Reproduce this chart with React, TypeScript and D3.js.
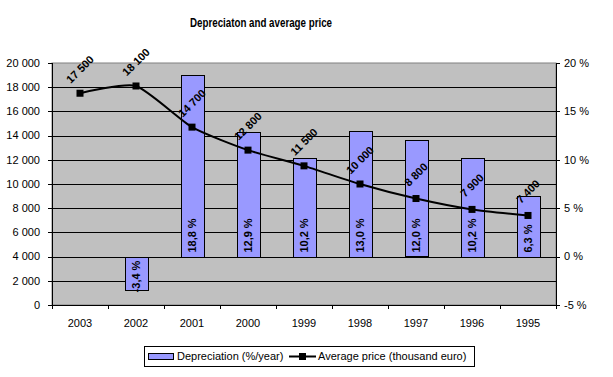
import React from "react";
import * as d3 from "d3";

const categories = ["2003", "2002", "2001", "2000", "1999", "1998", "1997", "1996", "1995"];
const depreciation: (number | null)[] = [null, -3.4, 18.8, 12.9, 10.2, 13.0, 12.0, 10.2, 6.3];
const avgPrice = [17500, 18100, 14700, 12800, 11500, 10000, 8800, 7900, 7400];
const leftTicks = [0, 2000, 4000, 6000, 8000, 10000, 12000, 14000, 16000, 18000, 20000];
const rightTicks = [-5, 0, 5, 10, 15, 20];

const W = 613, H = 377;
const plot = { left: 52, right: 556, top: 63, bottom: 305 };
const font = "'Liberation Sans', Arial, sans-serif";

const fmtThousands = (v: number) => {
  const s = Math.round(v).toString();
  return s.replace(/\B(?=(\d{3})+(?!\d))/g, " ");
};
const fmtPct = (v: number) => v.toFixed(1).replace(".", ",") + " %";

export default function App() {
  const x = d3.scaleBand().domain(categories).range([plot.left, plot.right]).paddingInner(0).paddingOuter(0);
  const yL = d3.scaleLinear().domain([0, 20000]).range([plot.bottom, plot.top]);
  const yR = d3.scaleLinear().domain([-5, 20]).range([plot.bottom, plot.top]);
  const barW = 23;
  const cx = (c: string) => (x(c) as number) + x.bandwidth() / 2;

  const line = d3
    .line<number>()
    .x((_, i) => cx(categories[i]))
    .y((d) => yL(d))
    .curve(d3.curveCardinal.tension(0.4));

  return (
    <svg width={W} height={H} style={{ position: "absolute", left: 0, top: 0, background: "#fff" }}>
      <text x={261} y={27} textAnchor="middle" fontFamily={font} fontWeight="bold" fontSize={12} textLength={142} lengthAdjust="spacingAndGlyphs">
        Depreciaton and average price
      </text>
      <rect x={plot.left} y={plot.top} width={plot.right - plot.left} height={plot.bottom - plot.top} fill="#C0C0C0" stroke="#808080" strokeWidth={1} />
      {leftTicks.slice(1, -1).map((t) => (
        <line key={t} x1={plot.left} x2={plot.right} y1={Math.round(yL(t)) + 0.5} y2={Math.round(yL(t)) + 0.5} stroke="#000" strokeWidth={1} />
      ))}
      {/* axes */}
      <line x1={plot.left + 0.5} x2={plot.left + 0.5} y1={plot.top} y2={plot.bottom} stroke="#000" />
      <line x1={plot.right + 0.5} x2={plot.right + 0.5} y1={plot.top} y2={plot.bottom} stroke="#000" />
      <line x1={plot.left} x2={plot.right} y1={plot.bottom + 0.5} y2={plot.bottom + 0.5} stroke="#000" />
      {leftTicks.map((t) => (
        <g key={t}>
          <line x1={plot.left - 4} x2={plot.left} y1={Math.round(yL(t)) + 0.5} y2={Math.round(yL(t)) + 0.5} stroke="#000" />
          <text x={40} y={yL(t)} dy="0.35em" textAnchor="end" fontFamily={font} fontSize={11}>
            {fmtThousands(t)}
          </text>
        </g>
      ))}
      {rightTicks.map((t) => (
        <g key={t}>
          <line x1={plot.right} x2={plot.right + 4} y1={Math.round(yR(t)) + 0.5} y2={Math.round(yR(t)) + 0.5} stroke="#000" />
          <text x={564} y={yR(t)} dy="0.35em" textAnchor="start" fontFamily={font} fontSize={11}>
            {t} %
          </text>
        </g>
      ))}
      {categories.map((c, i) => (
        <g key={c}>
          <line x1={Math.round(x(c) as number) + 0.5} x2={Math.round(x(c) as number) + 0.5} y1={plot.bottom} y2={plot.bottom + 4} stroke="#000" />
          {i === categories.length - 1 && (
            <line x1={plot.right + 0.5} x2={plot.right + 0.5} y1={plot.bottom} y2={plot.bottom + 4} stroke="#000" />
          )}
          <text x={cx(c)} y={323} dy="0.35em" textAnchor="middle" fontFamily={font} fontSize={11}>
            {c}
          </text>
        </g>
      ))}
      {/* bars */}
      {categories.map((c, i) => {
        const v = depreciation[i];
        if (v === null) return null;
        const y0 = yR(0), y1 = yR(v);
        return (
          <rect key={c} x={Math.round(cx(c) - barW / 2) + 0.5} y={Math.round(Math.min(y0, y1)) + 0.5} width={barW} height={Math.round(Math.abs(y1 - y0))} fill="#9999FF" stroke="#000" strokeWidth={1} />
        );
      })}
      {/* line */}
      <path d={line(avgPrice) || ""} fill="none" stroke="#000" strokeWidth={2} />
      {avgPrice.map((v, i) => (
        <rect key={i} x={cx(categories[i]) - 3.5} y={yL(v) - 3.5} width={7} height={7} fill="#000" />
      ))}
      {/* bar labels */}
      {categories.map((c, i) => {
        const v = depreciation[i];
        if (v === null) return null;
        const px = cx(c);
        const py = v >= 0 ? yR(0) - 4 : yR(0) + 4;
        return (
          <text key={c} transform={`translate(${px},${py}) rotate(-90)`} textAnchor={v >= 0 ? "start" : "end"} dy="0.35em" fontFamily={font} fontWeight="bold" fontSize={11}>
            {fmtPct(v)}
          </text>
        );
      })}
      {/* line labels */}
      {avgPrice.map((v, i) => {
        const px = cx(categories[i]);
        const py = yL(v) - 24;
        return (
          <text key={i} transform={`translate(${px},${py}) rotate(-45)`} textAnchor="middle" dy="0.35em" fontFamily={font} fontWeight="bold" fontSize={11}>
            {fmtThousands(v)}
          </text>
        );
      })}
      {/* legend */}
      <rect x={144.5} y={346.5} width={330} height={20} fill="#fff" stroke="#000" />
      <rect x={148.5} y={353.5} width={25} height={6} fill="#9999FF" stroke="#000" />
      <text x={177} y={356.5} dy="0.35em" fontFamily={font} fontSize={11}>Depreciation (%/year)</text>
      <line x1={289} x2={316} y1={356.5} y2={356.5} stroke="#000" strokeWidth={2} />
      <rect x={299} y={353} width={7} height={7} fill="#000" />
      <text x={318} y={356.5} dy="0.35em" fontFamily={font} fontSize={11}>Average price (thousand euro)</text>
    </svg>
  );
}
